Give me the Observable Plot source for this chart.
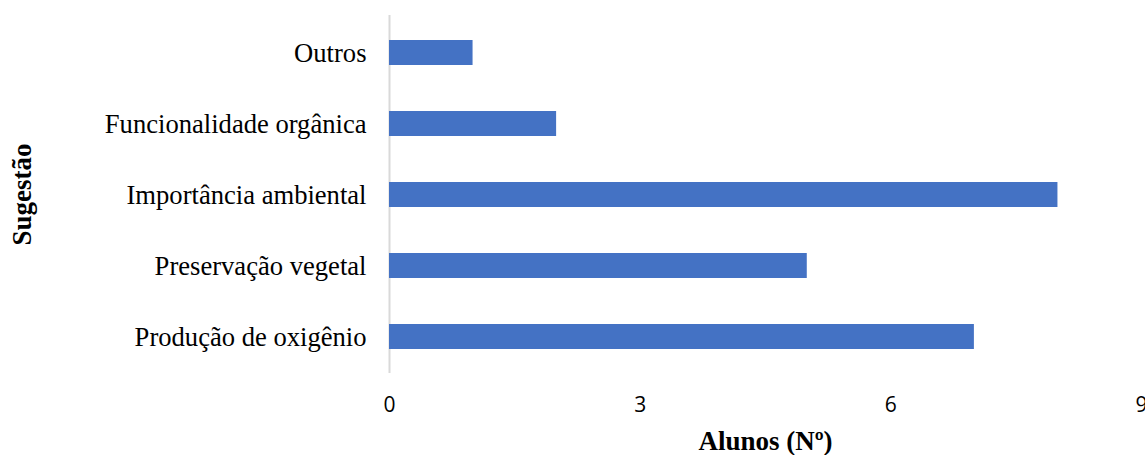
<!DOCTYPE html>
<html>
<head>
<meta charset="utf-8">
<script src="https://cdn.jsdelivr.net/npm/d3@7"></script>
<script src="https://cdn.jsdelivr.net/npm/@observablehq/plot@0.6"></script>
<style>
  html, body { margin: 0; padding: 0; background: #fff; }
  #chart svg { display: block; }
</style>
</head>
<body>
<div id="chart"></div>
<script>
const categories = ["Outros", "Funcionalidade orgânica", "Importância ambiental", "Preservação vegetal", "Produção de oxigênio"];
const values = [1, 2, 8, 5, 7];
const xTicks = [0, 3, 6, 9];
const xTitle = "Alunos (Nº)";
const yTitle = "Sugestão";

const data = categories.map((c, i) => ({name: c, value: values[i]}));
const serif = "'Liberation Serif', 'Times New Roman', serif";

const chart = Plot.plot({
  width: 1145,
  height: 455,
  marginLeft: 389,
  marginRight: 4,
  marginTop: 15,
  marginBottom: 82,
  style: {background: "#fff"},
  x: {domain: [0, 9], ticks: xTicks},
  y: {domain: categories, paddingInner: 0.65, paddingOuter: 0.325},
  marks: [
    Plot.ruleX([0], {stroke: "#d9d9d9", strokeWidth: 2}),
    Plot.barX(data, {x: "value", y: "name", fill: "#4472C4"}),
    Plot.axisY({tickSize: 0, tickPadding: 23, label: null, fontSize: 26.6, fontFamily: serif, color: "#000"}),
    Plot.axisX({ticks: xTicks, tickSize: 0, tickPadding: 24, label: null, fontSize: 21, fontFamily: "'Open Sans', sans-serif", color: "#000"}),
    Plot.text([xTitle], {frameAnchor: "bottom", lineAnchor: "middle", textAnchor: "middle", dy: 68, fontSize: 27, fontWeight: "bold", fontFamily: serif, fill: "#000"}),
    Plot.text([yTitle], {frameAnchor: "left", lineAnchor: "middle", textAnchor: "middle", dx: -367, rotate: -90, fontSize: 27, fontWeight: "bold", fontFamily: serif, fill: "#000"})
  ]
});
document.getElementById("chart").appendChild(chart);
</script>
</body>
</html>
